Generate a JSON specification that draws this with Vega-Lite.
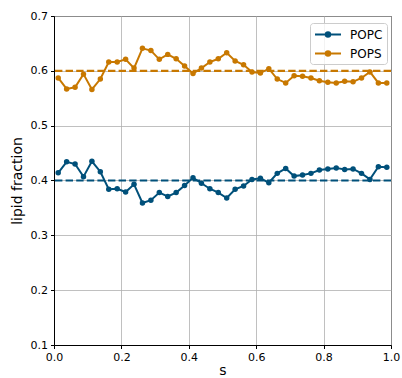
{
  "$schema": "https://vega.github.io/schema/vega-lite/v6.json",
  "width": 337,
  "height": 329,
  "autosize": "none",
  "padding": {"left": 54, "top": 16, "right": 11, "bottom": 33},
  "background": "white",
  "config": {
    "font": "DejaVu Sans",
    "view": {"stroke": "black", "strokeWidth": 1},
    "axis": {
      "domainColor": "black",
      "domainWidth": 1,
      "tickColor": "black",
      "tickSize": 3.5,
      "tickWidth": 1,
      "labelColor": "black",
      "labelFont": "DejaVu Sans",
      "labelFontSize": 11,
      "labelPadding": 3,
      "labelFlush": false,
      "titleFont": "DejaVu Sans",
      "titleFontSize": 14,
      "titleFontWeight": "normal",
      "titleColor": "black",
      "gridColor": "#b0b0b0",
      "gridWidth": 0.8
    },
    "legend": {
      "orient": "none",
      "legendX": 256,
      "legendY": 7,
      "padding": 4,
      "strokeColor": "#cccccc",
      "fillColor": "rgba(255,255,255,0.8)",
      "cornerRadius": 3,
      "labelFont": "DejaVu Sans",
      "labelFontSize": 12,
      "labelColor": "black",
      "labelOffset": 21,
      "rowPadding": 5,
      "symbolType": "M-1,0L3,0M0.66,0A0.34,0.34,0,1,0,1.34,0A0.34,0.34,0,1,0,0.66,0Z",
      "symbolSize": 169,
      "symbolStrokeWidth": 2
    }
  },
  "datasets": {
    "series": [
      {"s": 0.0125, "fraction": 0.414, "lipid": "POPC"},
      {"s": 0.0375, "fraction": 0.434, "lipid": "POPC"},
      {"s": 0.0625, "fraction": 0.430, "lipid": "POPC"},
      {"s": 0.0875, "fraction": 0.407, "lipid": "POPC"},
      {"s": 0.1125, "fraction": 0.435, "lipid": "POPC"},
      {"s": 0.1375, "fraction": 0.416, "lipid": "POPC"},
      {"s": 0.1625, "fraction": 0.384, "lipid": "POPC"},
      {"s": 0.1875, "fraction": 0.385, "lipid": "POPC"},
      {"s": 0.2125, "fraction": 0.379, "lipid": "POPC"},
      {"s": 0.2375, "fraction": 0.393, "lipid": "POPC"},
      {"s": 0.2625, "fraction": 0.359, "lipid": "POPC"},
      {"s": 0.2875, "fraction": 0.364, "lipid": "POPC"},
      {"s": 0.3125, "fraction": 0.378, "lipid": "POPC"},
      {"s": 0.3375, "fraction": 0.371, "lipid": "POPC"},
      {"s": 0.3625, "fraction": 0.378, "lipid": "POPC"},
      {"s": 0.3875, "fraction": 0.391, "lipid": "POPC"},
      {"s": 0.4125, "fraction": 0.405, "lipid": "POPC"},
      {"s": 0.4375, "fraction": 0.395, "lipid": "POPC"},
      {"s": 0.4625, "fraction": 0.385, "lipid": "POPC"},
      {"s": 0.4875, "fraction": 0.378, "lipid": "POPC"},
      {"s": 0.5125, "fraction": 0.368, "lipid": "POPC"},
      {"s": 0.5375, "fraction": 0.384, "lipid": "POPC"},
      {"s": 0.5625, "fraction": 0.390, "lipid": "POPC"},
      {"s": 0.5875, "fraction": 0.402, "lipid": "POPC"},
      {"s": 0.6125, "fraction": 0.404, "lipid": "POPC"},
      {"s": 0.6375, "fraction": 0.396, "lipid": "POPC"},
      {"s": 0.6625, "fraction": 0.413, "lipid": "POPC"},
      {"s": 0.6875, "fraction": 0.422, "lipid": "POPC"},
      {"s": 0.7125, "fraction": 0.408, "lipid": "POPC"},
      {"s": 0.7375, "fraction": 0.410, "lipid": "POPC"},
      {"s": 0.7625, "fraction": 0.413, "lipid": "POPC"},
      {"s": 0.7875, "fraction": 0.419, "lipid": "POPC"},
      {"s": 0.8125, "fraction": 0.421, "lipid": "POPC"},
      {"s": 0.8375, "fraction": 0.423, "lipid": "POPC"},
      {"s": 0.8625, "fraction": 0.420, "lipid": "POPC"},
      {"s": 0.8875, "fraction": 0.421, "lipid": "POPC"},
      {"s": 0.9125, "fraction": 0.413, "lipid": "POPC"},
      {"s": 0.9375, "fraction": 0.402, "lipid": "POPC"},
      {"s": 0.9625, "fraction": 0.425, "lipid": "POPC"},
      {"s": 0.9875, "fraction": 0.424, "lipid": "POPC"},
      {"s": 0.0125, "fraction": 0.587, "lipid": "POPS"},
      {"s": 0.0375, "fraction": 0.567, "lipid": "POPS"},
      {"s": 0.0625, "fraction": 0.570, "lipid": "POPS"},
      {"s": 0.0875, "fraction": 0.594, "lipid": "POPS"},
      {"s": 0.1125, "fraction": 0.566, "lipid": "POPS"},
      {"s": 0.1375, "fraction": 0.585, "lipid": "POPS"},
      {"s": 0.1625, "fraction": 0.616, "lipid": "POPS"},
      {"s": 0.1875, "fraction": 0.616, "lipid": "POPS"},
      {"s": 0.2125, "fraction": 0.621, "lipid": "POPS"},
      {"s": 0.2375, "fraction": 0.605, "lipid": "POPS"},
      {"s": 0.2625, "fraction": 0.641, "lipid": "POPS"},
      {"s": 0.2875, "fraction": 0.637, "lipid": "POPS"},
      {"s": 0.3125, "fraction": 0.621, "lipid": "POPS"},
      {"s": 0.3375, "fraction": 0.630, "lipid": "POPS"},
      {"s": 0.3625, "fraction": 0.622, "lipid": "POPS"},
      {"s": 0.3875, "fraction": 0.609, "lipid": "POPS"},
      {"s": 0.4125, "fraction": 0.595, "lipid": "POPS"},
      {"s": 0.4375, "fraction": 0.605, "lipid": "POPS"},
      {"s": 0.4625, "fraction": 0.616, "lipid": "POPS"},
      {"s": 0.4875, "fraction": 0.622, "lipid": "POPS"},
      {"s": 0.5125, "fraction": 0.633, "lipid": "POPS"},
      {"s": 0.5375, "fraction": 0.618, "lipid": "POPS"},
      {"s": 0.5625, "fraction": 0.611, "lipid": "POPS"},
      {"s": 0.5875, "fraction": 0.598, "lipid": "POPS"},
      {"s": 0.6125, "fraction": 0.596, "lipid": "POPS"},
      {"s": 0.6375, "fraction": 0.604, "lipid": "POPS"},
      {"s": 0.6625, "fraction": 0.585, "lipid": "POPS"},
      {"s": 0.6875, "fraction": 0.578, "lipid": "POPS"},
      {"s": 0.7125, "fraction": 0.591, "lipid": "POPS"},
      {"s": 0.7375, "fraction": 0.590, "lipid": "POPS"},
      {"s": 0.7625, "fraction": 0.587, "lipid": "POPS"},
      {"s": 0.7875, "fraction": 0.582, "lipid": "POPS"},
      {"s": 0.8125, "fraction": 0.579, "lipid": "POPS"},
      {"s": 0.8375, "fraction": 0.578, "lipid": "POPS"},
      {"s": 0.8625, "fraction": 0.581, "lipid": "POPS"},
      {"s": 0.8875, "fraction": 0.580, "lipid": "POPS"},
      {"s": 0.9125, "fraction": 0.587, "lipid": "POPS"},
      {"s": 0.9375, "fraction": 0.598, "lipid": "POPS"},
      {"s": 0.9625, "fraction": 0.578, "lipid": "POPS"},
      {"s": 0.9875, "fraction": 0.578, "lipid": "POPS"}
    ],
    "targets": [
      {"lipid": "POPC", "target": 0.4},
      {"lipid": "POPS", "target": 0.6}
    ]
  },
  "layer": [
    {
      "data": {"name": "targets"},
      "mark": {"type": "rule", "strokeWidth": 2.2, "strokeDash": [7.4, 3.2]},
      "encoding": {
        "y": {"field": "target", "type": "quantitative"},
        "color": {"field": "lipid", "type": "nominal"}
      }
    },
    {
      "data": {"name": "series"},
      "mark": {"type": "line", "strokeWidth": 2, "point": {"filled": true, "size": 30}},
      "encoding": {
        "x": {
          "field": "s",
          "type": "quantitative",
          "title": "s",
          "scale": {"domain": [0, 1], "nice": false},
          "axis": {"values": [0, 0.2, 0.4, 0.6, 0.8, 1.0], "format": ".1f", "titlePadding": 1}
        },
        "y": {
          "field": "fraction",
          "type": "quantitative",
          "title": "lipid fraction",
          "scale": {"domain": [0.1, 0.7], "nice": false, "zero": false},
          "axis": {"values": [0.1, 0.2, 0.3, 0.4, 0.5, 0.6, 0.7], "format": ".1f", "titlePadding": 6}
        },
        "color": {
          "field": "lipid",
          "type": "nominal",
          "title": null,
          "scale": {"domain": ["POPC", "POPS"], "range": ["#00507a", "#c87800"]},
          "legend": {
            "encode": {
              "symbols": {
                "update": {
                  "fill": {"scale": "color", "field": "value"},
                  "stroke": {"scale": "color", "field": "value"},
                  "strokeDash": {"value": []},
                  "opacity": {"value": 1}
                }
              }
            }
          }
        }
      }
    }
  ]
}
